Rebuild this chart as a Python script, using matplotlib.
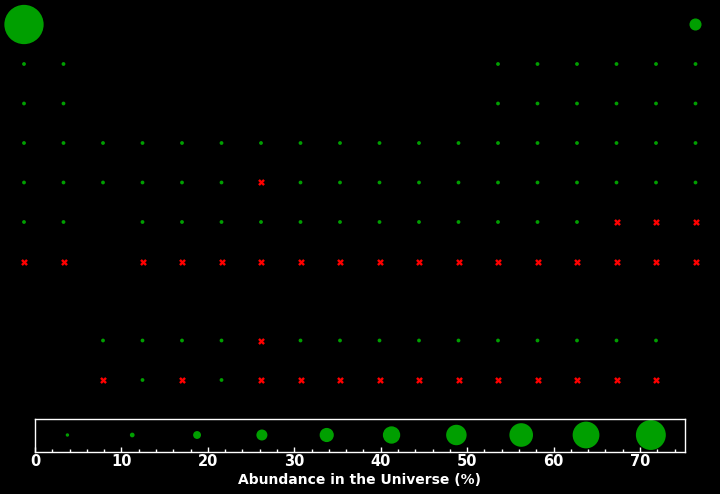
import matplotlib
matplotlib.use("Agg")
import matplotlib.pyplot as plt
from matplotlib.ticker import MultipleLocator

# element symbols with their table column, table row and abundance in the universe (%)
# rows 9 and 10 hold the lanthanides and actinides; None means no value available
symbols = [
    "H", "He",
    "Li", "Be", "B", "C", "N", "O", "F", "Ne",
    "Na", "Mg", "Al", "Si", "P", "S", "Cl", "Ar",
    "K", "Ca", "Sc", "Ti", "V", "Cr", "Mn", "Fe", "Co", "Ni", "Cu", "Zn", "Ga", "Ge", "As", "Se", "Br", "Kr",
    "Rb", "Sr", "Y", "Zr", "Nb", "Mo", "Tc", "Ru", "Rh", "Pd", "Ag", "Cd", "In", "Sn", "Sb", "Te", "I", "Xe",
    "Cs", "Ba", "Hf", "Ta", "W", "Re", "Os", "Ir", "Pt", "Au", "Hg", "Tl", "Pb", "Bi", "Po", "At", "Rn",
    "Fr", "Ra", "Rf", "Db", "Sg", "Bh", "Hs", "Mt", "Ds", "Rg", "Cn", "Nh", "Fl", "Mc", "Lv", "Ts", "Og",
    "La", "Ce", "Pr", "Nd", "Pm", "Sm", "Eu", "Gd", "Tb", "Dy", "Ho", "Er", "Tm", "Yb", "Lu",
    "Ac", "Th", "Pa", "U", "Np", "Pu", "Am", "Cm", "Bk", "Cf", "Es", "Fm", "Md", "No", "Lr",
]
columns = (
    [1, 18]
    + [1, 2] + list(range(13, 19))
    + [1, 2] + list(range(13, 19))
    + list(range(1, 19))
    + list(range(1, 19))
    + [1, 2] + list(range(4, 19))
    + [1, 2] + list(range(4, 19))
    + list(range(3, 18))
    + list(range(3, 18))
)
rows = [1] * 2 + [2] * 8 + [3] * 8 + [4] * 18 + [5] * 18 + [6] * 17 + [7] * 17 + [9] * 15 + [10] * 15

abundance = [
    75, 23,
    6e-5, 1e-5, 1e-5, 0.5, 0.1, 1.0, 4e-3, 0.13,
    2e-3, 0.06, 5e-3, 0.07, 7e-4, 0.05, 1e-2, 0.02,
    3e-2, 7e-3, 3e-4, 3e-2, 1e-2, 1.5e-3, 8e-2, 0.11, 3e-2, 6e-3, 6e-4, 3e-3, 1e-4, 2e-3, 8e-5, 3e-4, 7e-5, 4e-4,
    1e-4, 4e-4, 7e-5, 5e-4, 2e-5, 5e-5, None, 4e-5, 6e-6, 2e-5, 6e-6, 2e-5, 3e-6, 4e-5, 4e-6, 9e-5, 1e-5, 1e-4,
    8e-6, 1e-4, 7e-6, 8e-7, 5e-6, 2e-6, 3e-5, 2e-5, 5e-5, 6e-6, 1e-5, 5e-6, 1e-4, 7e-6, None, None, None,
    None, None, None, None, None, None, None, None, None, None, None, None, None, None, None, None, None,
    2e-5, 1e-4, 2e-6, 1e-5, None, 5e-6, 5e-6, 2e-5, 5e-6, 2e-5, 5e-6, 2e-5, 1e-6, 2e-5, 1e-6,
    None, 4e-6, None, 2e-6, None, None, None, None, None, None, None, None, None, None, None,
]

legend_values = [3.75, 11.25, 18.75, 26.25, 33.75, 41.25, 48.75, 56.25, 63.75, 71.25]

GREEN = "#009f00"
RED = "#ff0000"
DPI = 100


def size_from_radius(r_px):
    r_pt = r_px * 72 / DPI
    return (2 * r_pt) ** 2


fig = plt.figure(figsize=(7.2, 4.94), dpi=DPI, facecolor="black")

# periodic table
ax = fig.add_axes([0, 0, 1, 1])
ax.set_facecolor("none")
ax.axis("off")
ax.set_xlim(1 - 24 / 39.5, 1 + 696 / 39.5)
ax.set_ylim(1 + 469.5 / 39.5, 1 - 24.5 / 39.5)

gx, gy, gs, rx, ry = [], [], [], [], []
for c, r, a in zip(columns, rows, abundance):
    if a is None:
        rx.append(c)
        ry.append(r)
    else:
        gx.append(c)
        gy.append(r)
        gs.append(size_from_radius(max(1.9, 0.262 * a)))

ax.scatter(gx, gy, s=gs, color=GREEN, linewidths=0, zorder=3)
ax.scatter(rx, ry, s=size_from_radius(3.4), marker="X", color=RED,
           linewidths=0, zorder=3)

# size key
lax = fig.add_axes([35 / 720, 42.5 / 494, 650 / 720, 33 / 494])
lax.set_facecolor("black")
lax.set_xlim(0, 75.2)
lax.set_ylim(0, 1)
lax.scatter(legend_values, [0.5] * len(legend_values),
            s=[size_from_radius(max(1.7, 0.21 * v)) for v in legend_values],
            color=GREEN, linewidths=0, clip_on=False)
for side in lax.spines.values():
    side.set_color("white")
    side.set_linewidth(1)
lax.set_yticks([])
lax.xaxis.set_major_locator(MultipleLocator(10))
lax.xaxis.set_minor_locator(MultipleLocator(2))
lax.tick_params(axis="x", which="major", direction="in", length=3.5, width=1,
                color="white", labelcolor="white", labelsize=10.5, pad=2)
lax.tick_params(axis="x", which="minor", direction="in", length=2, width=1,
                color="white")
for lbl in lax.get_xticklabels():
    lbl.set_fontweight("bold")
lax.set_xlabel("Abundance in the Universe (%)", color="white",
               fontsize=10, fontweight="bold", labelpad=3)

fig.savefig("out.png", dpi=DPI, facecolor="black")
